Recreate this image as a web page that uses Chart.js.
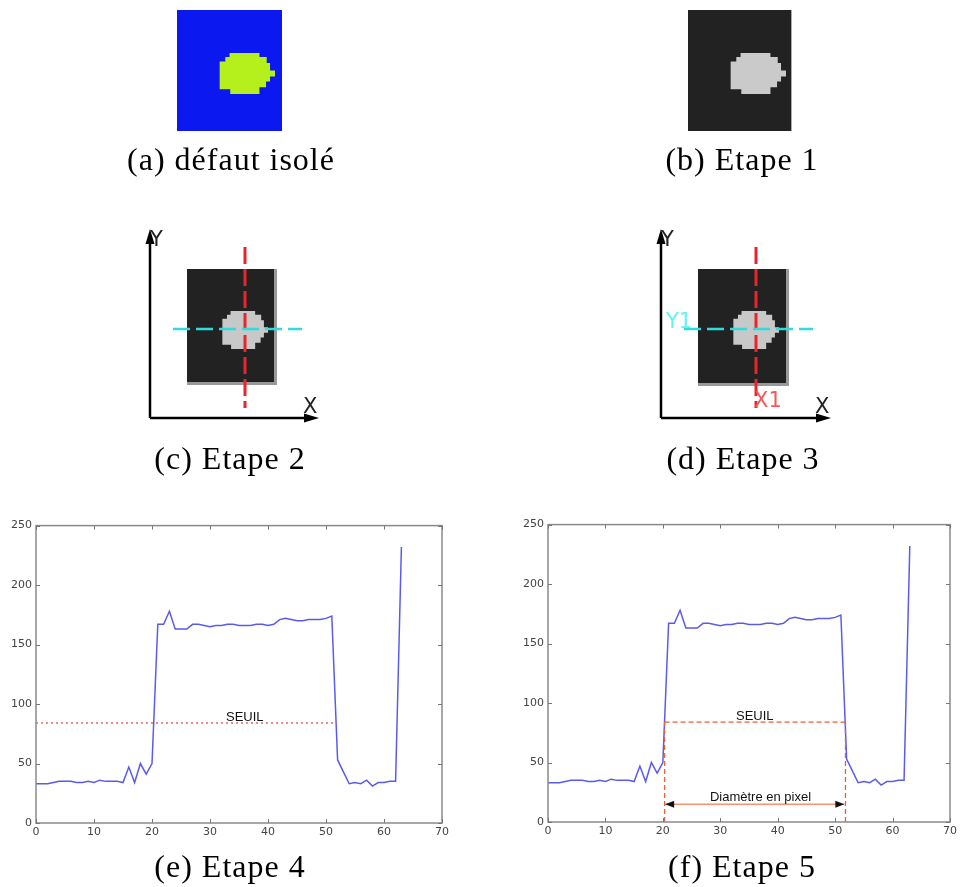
<!DOCTYPE html>
<html>
<head>
<meta charset="utf-8">
<script src="https://cdn.jsdelivr.net/npm/chart.js@4.4.1/dist/chart.umd.min.js"></script>
<style>
  body { margin: 0; background: #fff; }
  #page { position: relative; width: 960px; height: 887px; overflow: hidden; }
  .box { position: absolute; }
  .blob {
    position: absolute;
    clip-path: polygon(20.3% 0, 72.7% 0, 72.7% 9.8%, 85.5% 9.8%, 85.5% 24.6%, 91.3% 24.6%, 91.3% 42.6%, 100% 42.6%,
      100% 57.4%, 91.3% 57.4%, 91.3% 69.7%, 84.3% 69.7%, 84.3% 83.6%, 72.7% 83.6%, 72.7% 100%, 21.5% 100%,
      21.5% 88.5%, 2.9% 88.5%, 2.9% 20.5%, 12.8% 20.5%, 12.8% 9.8%, 20.3% 9.8%);
  }
  canvas { position: absolute; }
  svg { position: absolute; left: 0; top: 0; pointer-events: none; }
</style>
</head>
<body>
<div id="page">
  <!-- (a) and (b) -->
  <div class="box" style="left:177px;top:10px;width:105px;height:121px;background:#0b19f0"></div>
  <div class="blob" style="left:218px;top:53px;width:57px;height:41px;background:#b6f01c"></div>
  <div class="box" style="left:688px;top:10px;width:103px;height:121px;background:#222;border-right:1px solid #aaa"></div>
  <div class="blob" style="left:729px;top:53px;width:57px;height:41px;background:#cacaca"></div>

  <!-- (c) and (d) -->
  <div class="box" style="left:187px;top:269px;width:87px;height:113px;background:#222;border-right:3px solid #999;border-bottom:3px solid #999"></div>
  <div class="blob" style="left:221px;top:311px;width:47px;height:38px;background:#c8c8c8"></div>
  <div class="box" style="left:698px;top:269px;width:88px;height:114px;background:#222;border-right:3px solid #999;border-bottom:3px solid #999"></div>
  <div class="blob" style="left:732px;top:311px;width:47px;height:38px;background:#c8c8c8"></div>

  <canvas id="chartE" width="460" height="335" style="left:0;top:515px"></canvas>
  <canvas id="chartF" width="448" height="335" style="left:512px;top:514px"></canvas>

  <svg width="960" height="887">
    <g stroke="#000" stroke-width="2.5">
      <line x1="150" y1="240" x2="150" y2="418"/>
      <line x1="150" y1="418" x2="308" y2="418"/>
      <line x1="661" y1="240" x2="661" y2="418"/>
      <line x1="661" y1="418" x2="820" y2="418"/>
    </g>
    <polygon points="150,229 145.5,244 154.5,244" fill="#000"/>
    <polygon points="319,418 304,413.5 304,422.5" fill="#000"/>
    <polygon points="661,229 656.5,244 665.5,244" fill="#000"/>
    <polygon points="831,418 816,413.5 816,422.5" fill="#000"/>
    <g font-family="DejaVu Sans, sans-serif" font-size="21" fill="#222">
      <text x="150" y="246">Y</text>
      <text x="303" y="413">X</text>
      <text x="661" y="246">Y</text>
      <text x="815" y="413">X</text>
    </g>
    <g stroke="#e8252d" stroke-width="3" stroke-dasharray="17 5">
      <line x1="245" y1="247" x2="245" y2="408"/>
      <line x1="756" y1="247" x2="756" y2="408"/>
    </g>
    <g stroke="#2fdcdc" stroke-width="2.5" stroke-dasharray="17 6">
      <line x1="173" y1="329" x2="302" y2="329"/>
      <line x1="684" y1="329" x2="813" y2="329"/>
    </g>
    <text x="666" y="328" font-family="DejaVu Sans, sans-serif" font-size="21" fill="#66f2f2">Y1</text>
    <text x="754" y="407" font-family="DejaVu Sans, sans-serif" font-size="21" fill="#f25a5a">X1</text>

    <g font-family="Liberation Serif, serif" font-size="32" letter-spacing="1" text-anchor="middle" fill="#000">
      <text x="231" y="170">(a) défaut isolé</text>
      <text x="742" y="170">(b) Etape 1</text>
      <text x="230" y="469">(c) Etape 2</text>
      <text x="743" y="469">(d) Etape 3</text>
      <text x="230" y="877">(e) Etape 4</text>
      <text x="742" y="877">(f) Etape 5</text>
    </g>
  </svg>
</div>

<script>
// grey level profile along the X1 line, one value per pixel
const profile = [33, 33, 33, 34, 35, 35, 35, 34, 34, 35, 34, 36, 35, 35, 35, 34, 47, 34, 50, 41, 50,
    167, 167, 178, 163, 163, 163, 167, 167, 166, 165, 166, 166, 167, 167, 166, 166, 166, 167, 167, 166,
    167, 171, 172, 171, 170, 170, 171, 171, 171, 172, 174,
    53, 43, 33, 34, 33, 36, 31, 34, 34, 35, 35, 232];

const xRange = [0, 70];
const yRange = [0, 250];
const xStep = 10;
const yStep = 50;

const seuil = 84;
const seuilSpanE = [0, 51.8];
const seuilSpanF = [20.3, 51.8];
const diameterSpan = [20.4, 51.6];
const diameterY = 15;
const seuilLabel = 'SEUIL';
const seuilLabelX = 36;
const diameterLabel = 'Diamètre en pixel';
const diameterLabelX = 37;

const profilePoints = profile.map((v, i) => ({ x: i, y: v }));

// matplotlib-like box with inward ticks
const framePlugin = {
    id: 'frame',
    afterDraw(chart) {
        const { ctx, chartArea: a, scales: { x, y } } = chart;
        ctx.save();
        ctx.strokeStyle = '#8a8a8a';
        ctx.lineWidth = 1.5;
        ctx.strokeRect(a.left, a.top, a.right - a.left, a.bottom - a.top);
        ctx.lineWidth = 1;
        ctx.strokeStyle = '#777';
        ctx.beginPath();
        x.ticks.forEach(t => {
            const px = Math.round(x.getPixelForValue(t.value)) + 0.5;
            ctx.moveTo(px, a.bottom); ctx.lineTo(px, a.bottom - 4);
            ctx.moveTo(px, a.top); ctx.lineTo(px, a.top + 4);
        });
        y.ticks.forEach(t => {
            const py = Math.round(y.getPixelForValue(t.value)) + 0.5;
            ctx.moveTo(a.left, py); ctx.lineTo(a.left + 4, py);
            ctx.moveTo(a.right, py); ctx.lineTo(a.right - 4, py);
        });
        ctx.stroke();
        ctx.restore();
    }
};

// text labels and arrow heads, placed through the scales
function notes(withDiameter) {
    return {
        id: 'notes',
        afterDatasetsDraw(chart) {
            const { ctx, scales: { x, y } } = chart;
            ctx.save();
            ctx.fillStyle = '#111';
            ctx.font = '13px "Liberation Sans", Arial, sans-serif';
            ctx.textAlign = 'center';
            ctx.textBaseline = 'alphabetic';
            ctx.fillText(seuilLabel, x.getPixelForValue(seuilLabelX), y.getPixelForValue(seuil) - 2);
            if (withDiameter) {
                const py = y.getPixelForValue(diameterY);
                ctx.fillText(diameterLabel, x.getPixelForValue(diameterLabelX), py - 3);
                const l = x.getPixelForValue(diameterSpan[0]);
                const r = x.getPixelForValue(diameterSpan[1]);
                ctx.beginPath();
                ctx.moveTo(l, py); ctx.lineTo(l + 9, py - 3.5); ctx.lineTo(l + 9, py + 3.5); ctx.closePath();
                ctx.moveTo(r, py); ctx.lineTo(r - 9, py - 3.5); ctx.lineTo(r - 9, py + 3.5); ctx.closePath();
                ctx.fill();
            }
            ctx.restore();
        }
    };
}

function makeOptions(padRight, padTop) {
    const tickFont = { family: '"DejaVu Sans", sans-serif', size: 11 };
    return {
        responsive: false,
        animation: false,
        layout: { autoPadding: false, padding: { top: padTop, right: padRight, left: 0, bottom: 10 } },
        plugins: { legend: { display: false }, tooltip: { enabled: false } },
        scales: {
            x: {
                type: 'linear', min: xRange[0], max: xRange[1],
                ticks: { stepSize: xStep, color: '#444', font: tickFont, padding: 3 },
                grid: { display: false, drawTicks: false }, border: { display: false },
                afterFit(scale) { scale.height = 17; }
            },
            y: {
                min: yRange[0], max: yRange[1],
                ticks: { stepSize: yStep, color: '#444', font: tickFont, padding: 4 },
                grid: { display: false, drawTicks: false }, border: { display: false },
                afterFit(scale) { scale.width = 36; }
            }
        }
    };
}

const profileStyle = {
    borderColor: '#5b5beb', borderWidth: 1.5, pointRadius: 0, tension: 0, fill: false
};

// Etape 4
new Chart(document.getElementById('chartE').getContext('2d'), {
    type: 'line',
    data: {
        datasets: [
            {
                data: [{ x: seuilSpanE[0], y: seuil }, { x: seuilSpanE[1], y: seuil }],
                borderColor: '#e36868', borderWidth: 1.5, borderDash: [2, 3], pointRadius: 0
            },
            Object.assign({ data: profilePoints }, profileStyle)
        ]
    },
    options: makeOptions(18, 10),
    plugins: [framePlugin, notes(false)]
});

// Etape 5
const dashRed = { borderColor: '#e2603e', borderWidth: 1.3, borderDash: [5, 3], pointRadius: 0 };
new Chart(document.getElementById('chartF').getContext('2d'), {
    type: 'line',
    data: {
        datasets: [
            Object.assign({ data: [{ x: seuilSpanF[0], y: seuil }, { x: seuilSpanF[1], y: seuil }] }, dashRed),
            Object.assign({ data: [{ x: seuilSpanF[0], y: yRange[0] }, { x: seuilSpanF[0], y: seuil }] }, dashRed),
            Object.assign({ data: [{ x: seuilSpanF[1], y: yRange[0] }, { x: seuilSpanF[1], y: seuil }] }, dashRed),
            {
                data: [{ x: diameterSpan[0], y: diameterY }, { x: diameterSpan[1], y: diameterY }],
                borderColor: '#f39470', borderWidth: 1.5, pointRadius: 0
            },
            Object.assign({ data: profilePoints }, profileStyle)
        ]
    },
    options: makeOptions(7, 10),
    plugins: [framePlugin, notes(true)]
});
</script>
</body>
</html>
